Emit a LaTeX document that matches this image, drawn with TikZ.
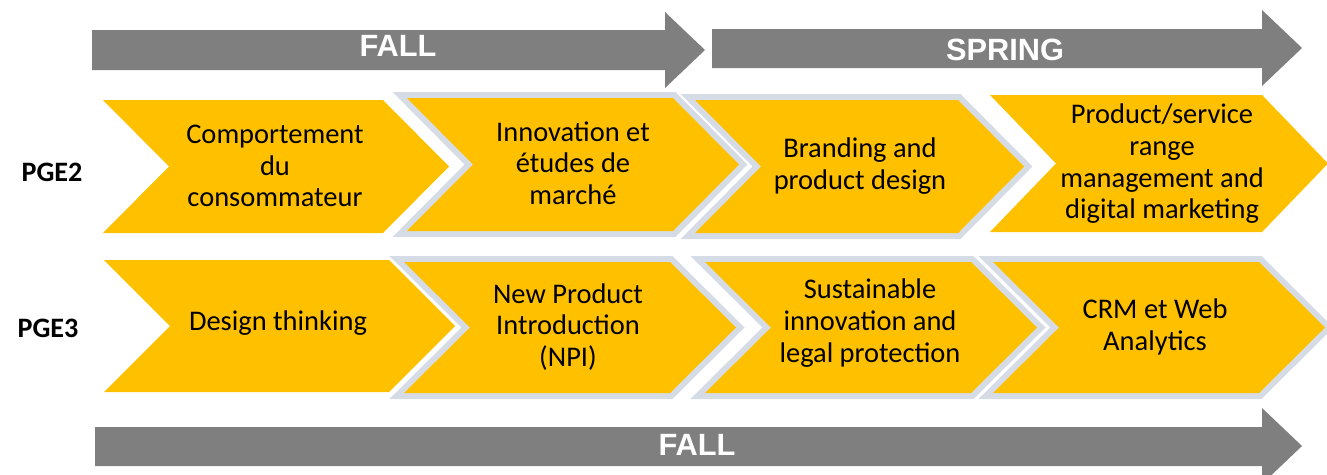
\documentclass[tikz,border=0pt]{standalone}
\usepackage{fontspec}
\setmainfont{Carlito}
\newfontfamily\arialfont{Liberation Sans}
\usepackage{tikz}
\usetikzlibrary{positioning}
\definecolor{gold}{HTML}{FFC000}
\definecolor{arrowgray}{HTML}{7F7F7F}
\definecolor{rimblue}{HTML}{D6DCE5}
\tikzset{
  course/.style={font=\fontsize{16.2}{18}\selectfont, align=center, text=black},
  season/.style={font=\arialfont\bfseries\fontsize{17.5}{20}\selectfont, text=white},
  level/.style={font=\bfseries\fontsize{16}{18}\selectfont, text=black},
  rim/.style={draw=rimblue, line width=2.4mm, line join=miter},
}
% chevron: left x, right x, top y, bottom y
\newcommand{\plainchev}[4]{%
  \fill[gold] (#1,#3) -- (#2,#3) -- ({#2+66},{(#3+#4)/2}) -- (#2,#4) -- (#1,#4) -- ({#1+66},{(#3+#4)/2}) -- cycle;}
\newcommand{\rimchev}[4]{%
  \draw[rim] (#1,#3) -- (#2,#3) -- ({#2+66},{(#3+#4)/2}) -- (#2,#4) -- (#1,#4) -- ({#1+66},{(#3+#4)/2}) -- cycle;
  \plainchev{#1}{#2}{#3}{#4}}

\begin{document}
\begin{tikzpicture}[x=0.2mm, y=-0.2mm]
        \useasboundingbox (0,0) rectangle (1327,474);
        \clip (0,0) rectangle (1327,474);
        % Season arrows
        \fill[arrowgray] (92,30) -- (665,30) -- (665,12) -- (705,50) -- (665,88) -- (665,70) -- (92,70) -- cycle;
        \fill[arrowgray] (712,29) -- (1262,29) -- (1262,10) -- (1302,48) -- (1262,86) -- (1262,68) -- (712,68) -- cycle;
        \fill[arrowgray] (95,427) -- (1262,427) -- (1262,408) -- (1302,446) -- (1262,484) -- (1262,466) -- (95,466) -- cycle;
        \node[season] (fallA) at (398,46) {FALL};
        \node[season] (spring) at (1005,50) {SPRING};
        \node[season] (fallB) at (697,445) {FALL};
        % PGE2 row
        \plainchev{103}{383}{100}{233}
        \rimchev{407}{673}{98}{231}
        \rimchev{695}{958}{100}{233}
        \plainchev{990}{1262}{95}{232}
        % PGE3 row
        \plainchev{104}{389}{260}{392}
        \rimchev{404}{670}{262}{393}
        \rimchev{705}{971}{262}{393}
        \rimchev{993}{1259}{262}{393}
        % Row labels
        \node[level] (pge2) at (52,172) {PGE2};
        \node[level] (pge3) at (48,328) {PGE3};
        % Course titles
        \node[course] (consumer) at (275,166) {Comportement\\du\\consommateur};
        \node[course] (market) at (573,163) {Innovation et\\études de\\marché};
        \node[course] (branding) at (860,166) {Branding and\\product design};
        \node[course] (range) at (1162,164) {Product/service\\range\\management and\\digital marketing};
        \node[course] (designthink) at (278,323) {Design thinking};
        \node[course] (npi) at (568,327) {New Product\\Introduction\\(NPI)};
        \node[course] (sustain) at (870,323) {Sustainable\\innovation and\\legal protection};
        \node[course] (crm) at (1155,327) {CRM et Web\\Analytics};
\end{tikzpicture}
\end{document}
